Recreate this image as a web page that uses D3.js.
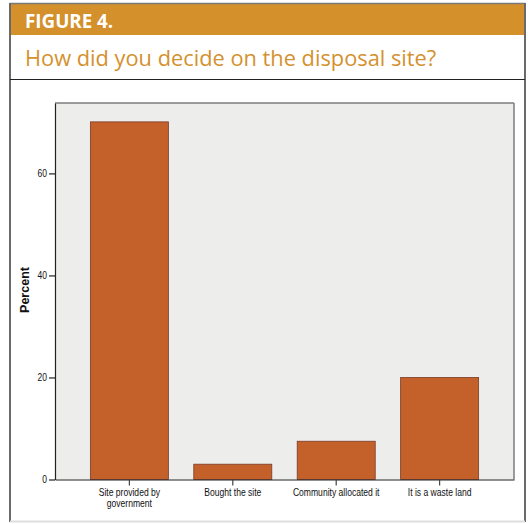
<!DOCTYPE html>
<html>
<head>
<meta charset="utf-8">
<script src="https://cdn.jsdelivr.net/npm/d3@7"></script>
<style>
  html, body { margin: 0; padding: 0; background: #fff; }
  svg { display: block; }
</style>
</head>
<body>
<svg id="chart" width="528" height="524"></svg>
<script>
const figureLabel = "FIGURE 4.";
const chartTitle = "How did you decide on the disposal site?";
const categories = ["Site provided by\ngovernment", "Bought the site", "Community allocated it", "It is a waste land"];
const percentValues = [70.1, 3.0, 7.5, 20.0];
const yTicks = [0, 20, 40, 60];
const yAxisTitle = "Percent";

const svg = d3.select("#chart");

// Outer frame
svg.append("rect").attr("x", 0).attr("y", 0).attr("width", 528).attr("height", 524).attr("fill", "#fff");
svg.append("rect").attr("x", 10).attr("y", 4).attr("width", 515).attr("height", 31).attr("fill", "#D4902B");
svg.append("line").attr("x1", 10).attr("x2", 525).attr("y1", 3.5).attr("y2", 3.5).attr("stroke", "#7a7a7a").attr("stroke-width", 1.5);
svg.append("line").attr("x1", 10).attr("x2", 10).attr("y1", 3).attr("y2", 522).attr("stroke", "#6a6a6a").attr("stroke-width", 2);
svg.append("line").attr("x1", 525).attr("x2", 525).attr("y1", 3).attr("y2", 522).attr("stroke", "#6a6a6a").attr("stroke-width", 2);
svg.append("line").attr("x1", 10).attr("x2", 525).attr("y1", 521.5).attr("y2", 521.5).attr("stroke", "#dedede").attr("stroke-width", 2);
svg.append("line").attr("x1", 10).attr("x2", 525).attr("y1", 79.5).attr("y2", 79.5).attr("stroke", "#222").attr("stroke-width", 1.2);

svg.append("text").attr("x", 25).attr("y", 28)
  .attr("font-family", "'Open Sans', 'Noto Sans', sans-serif").attr("font-weight", 700)
  .attr("font-size", 18.8).attr("fill", "#fff").text(figureLabel);
svg.append("text").attr("x", 25).attr("y", 65.5)
  .attr("font-family", "'Open Sans', 'Noto Sans', sans-serif").attr("font-weight", 400)
  .attr("font-size", 21.8).attr("fill", "#D4912E").text(chartTitle);

// Plot area
const plot = { left: 55, right: 514, top: 103, bottom: 479.5 };
const y = d3.scaleLinear().domain([0, 73.8]).range([plot.bottom, plot.top]);
const x = d3.scaleBand().domain(categories).range([plot.left, plot.right])
  .paddingInner(0.2456).paddingOuter(0.342);

svg.append("rect").attr("x", plot.left).attr("y", plot.top)
  .attr("width", plot.right - plot.left).attr("height", plot.bottom - plot.top)
  .attr("fill", "#EDEEEC");
svg.append("line").attr("x1", plot.left).attr("x2", plot.right).attr("y1", plot.top).attr("y2", plot.top)
  .attr("stroke", "#7d7d7d").attr("stroke-width", 1.5);
svg.append("line").attr("x1", plot.right).attr("x2", plot.right).attr("y1", plot.top).attr("y2", plot.bottom)
  .attr("stroke", "#7d7d7d").attr("stroke-width", 1.5);

// Bars
svg.append("g").selectAll("rect").data(percentValues).join("rect")
  .attr("x", (d, i) => x(categories[i]))
  .attr("y", d => y(d))
  .attr("width", x.bandwidth())
  .attr("height", d => y(0) - y(d))
  .attr("fill", "#C4602A")
  .attr("stroke", "#7a3b28")
  .attr("stroke-width", 0.8);

// Y axis
const yAxis = d3.axisLeft(y).tickValues(yTicks).tickSize(6).tickPadding(2).tickSizeOuter(0);
const gy = svg.append("g").attr("transform", `translate(${plot.left},0)`).call(yAxis);
gy.select(".domain").attr("stroke", "#222").attr("stroke-width", 1.2);
gy.selectAll(".tick line").attr("stroke", "#222").attr("stroke-width", 1.2);
gy.selectAll(".tick text").attr("font-family", "'Liberation Sans', Arial, sans-serif")
  .attr("font-size", 10).attr("fill", "#111")
  .attr("transform", "translate(-8,0) scale(0.85,1) translate(8,0)");

// X axis
const xAxis = d3.axisBottom(x).tickSize(6).tickSizeOuter(0).tickFormat(() => "");
const gx = svg.append("g").attr("transform", `translate(0,${plot.bottom})`).call(xAxis);
gx.select(".domain").attr("stroke", "#222").attr("stroke-width", 1.2);
gx.selectAll(".tick line").attr("stroke", "#444").attr("stroke-width", 1.2);
gx.selectAll(".tick").each(function(d) {
  const lines = d.split("\n");
  const t = d3.select(this).append("text")
    .attr("text-anchor", "middle")
    .attr("transform", "scale(0.84,1)")
    .attr("font-family", "'Liberation Sans', Arial, sans-serif")
    .attr("font-size", 10.2).attr("fill", "#111");
  lines.forEach((ln, i) => t.append("tspan").attr("x", 0).attr("y", 17 + i * 10.5).text(ln));
});

// Y axis title
svg.append("text").attr("transform", `translate(29,290) rotate(-90)`)
  .attr("text-anchor", "middle")
  .attr("font-family", "'Liberation Sans', Arial, sans-serif").attr("font-weight", 700)
  .attr("font-size", 12.5).attr("fill", "#111").text(yAxisTitle);
</script>
</body>
</html>
